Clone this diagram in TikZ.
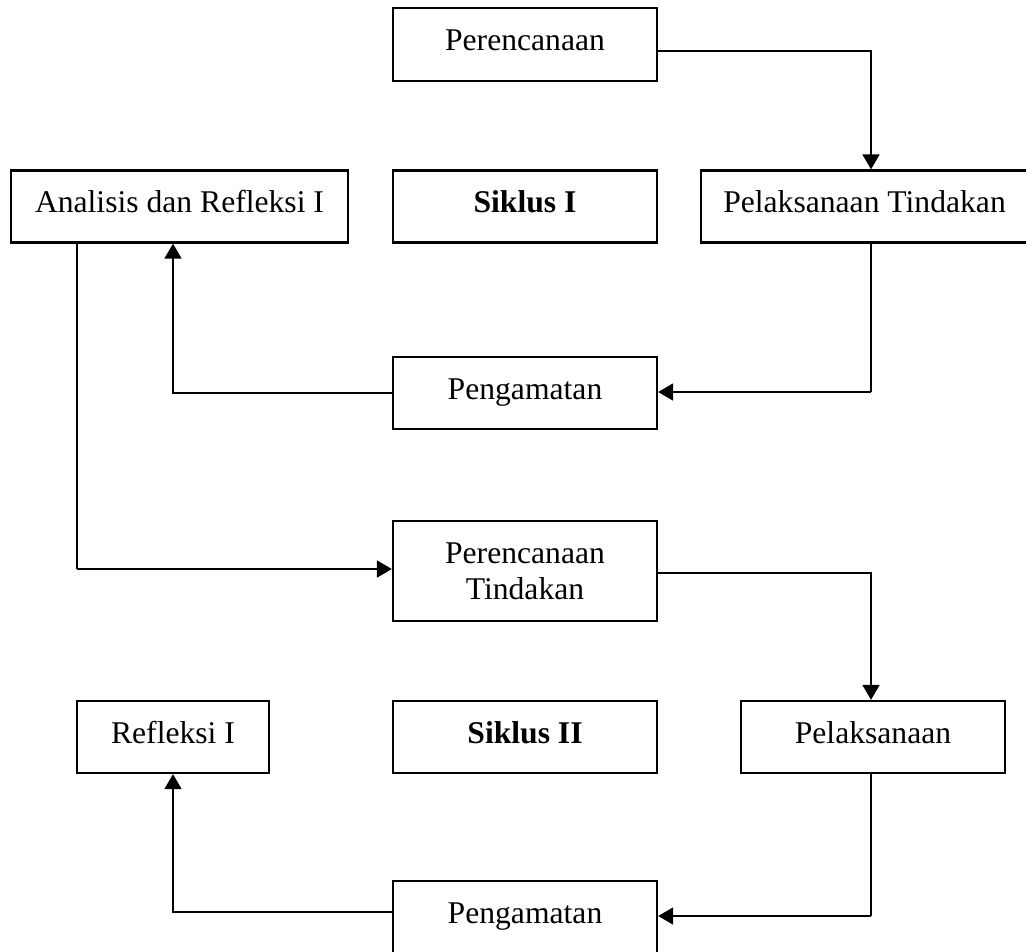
\documentclass[tikz,border=0pt]{standalone}
\usepackage{fontspec}
\setmainfont{Liberation Serif}
\usepackage{tikz}
\usetikzlibrary{arrows.meta}
\tikzset{
	box/.style={draw, line width=1.3pt, inner sep=0pt, align=center,
		minimum height=1.44cm, font=\fontsize{18pt}{20.5pt}\selectfont},
	oneline/.style={box, text height=0.44cm, text depth=0.2cm},
	arr/.style={->, line width=1.4pt},
	thinline/.style={line width=0.8pt},
	>={Triangle[length=8.5pt,width=9.5pt]},
}

\begin{document}
\begin{tikzpicture}[x=0.02cm, y=-0.02cm]
	\useasboundingbox (0,0) rectangle (1026,951);
	% columns of the connectors
	\coordinate (colR) at (871,0);
	\coordinate (colL) at (173,0);
	\coordinate (colA) at (77,0);
	% siklus I
	\node[oneline, minimum width=5.28cm, minimum height=1.46cm] (plan) at (525,44.5) {Perencanaan};
	\node[oneline, minimum width=6.74cm] (analisis) at (179.5,206.5) {Analisis dan Refleksi I};
	\node[oneline, minimum width=5.28cm] (siklus1) at (525,206.5) {\textbf{Siklus I}};
	\node[oneline, minimum width=6.54cm] (pelaks1) at (864.5,206.5) {Pelaksanaan Tindakan};
	\node[oneline, minimum width=5.28cm] (amat1) at (525,393) {Pengamatan};
	% siklus II
	\node[box, minimum width=5.28cm, minimum height=2cm] (plan2) at (525,571) {Perencanaan\\Tindakan};
	\node[oneline, minimum width=3.84cm] (refleksi) at (173,737) {Refleksi I};
	\node[oneline, minimum width=5.28cm] (siklus2) at (525,737) {\textbf{Siklus II}};
	\node[oneline, minimum width=5.28cm] (pelaks2) at (873,737) {Pelaksanaan};
	\node[oneline, minimum width=5.28cm] (amat2) at (525,917) {Pengamatan};
	% bends
	\coordinate (k1) at (871,392);
	\coordinate (k2) at (77,569);
	\coordinate (k3) at (871,916);
	% connectors
	\draw[arr] ([yshift=-0.13cm]plan.east) -| (pelaks1.north -| colR);
	\draw[thinline] (pelaks1.south -| colR) -- (k1);
	\draw[arr] (k1) -- (k1 -| amat1.east);
	\draw[arr] (amat1.west) -| (analisis.south -| colL);
	\draw[thinline] (analisis.south -| colA) -- (k2);
	\draw[arr] (k2) -- (k2 -| plan2.west);
	\draw[arr] ([yshift=-0.04cm]plan2.east) -| (pelaks2.north -| colR);
	\draw[thinline] (pelaks2.south -| colR) -- (k3);
	\draw[arr] (k3) -- (k3 -| amat2.east);
	\draw[arr] ([yshift=0.1cm]amat2.west) -| (refleksi.south -| colL);
\end{tikzpicture}
\end{document}
